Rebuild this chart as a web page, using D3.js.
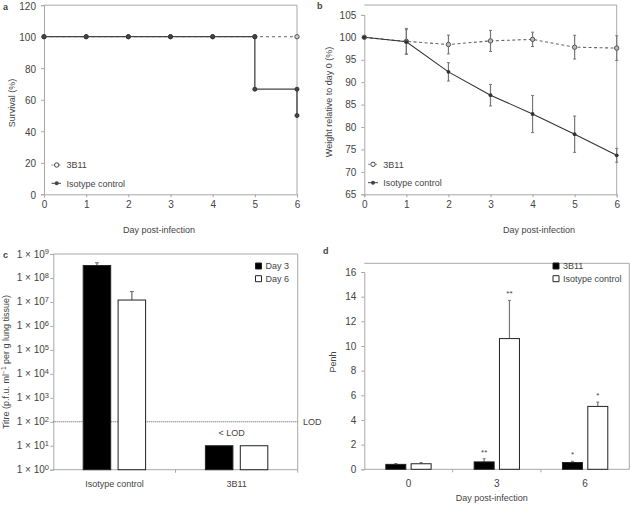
<!DOCTYPE html>
<html><head><meta charset="utf-8">
<script src="https://cdn.jsdelivr.net/npm/d3@7/dist/d3.min.js"></script>
<style>
body{margin:0;background:#fff;}
svg text{font-family:"Liberation Sans",Arial,sans-serif;fill:#444;}
svg .tick text, svg text.tk{font-family:"Liberation Sans Narrow","Liberation Sans",sans-serif;}
</style></head>
<body><svg id="c" width="630" height="505"></svg>
<script>
// ---------- DATA ----------
// Panel a: survival (Kaplan-Meier events)
const survDays = [0,1,2,3,4,5,6];
const surv3B11 = [100,100,100,100,100,100,100];
const survIsoDays = [0,1,2,3,4,5,5,6,6];
const survIso = [100,100,100,100,100,100,66.7,66.7,50];
const survTicksY = [0,20,40,60,80,100,120];

// Panel b: weight relative to day 0
const wDays = [0,1,2,3,4,5,6];
const w3B11 = [100,99.1,98.4,99.2,99.55,97.8,97.6];
const w3B11Err = [0,2.9,2.1,2.35,1.6,2.65,2.75];
const wIso = [100,99.0,92.3,87.1,82.9,78.4,73.7];
const wIsoErr = [0,2.7,2.05,2.4,4.15,4.05,1.55];
const wTicksY = [65,70,75,80,85,90,95,100,105];

// Panel c: lung titre
const titreGroups = ["Isotype control","3B11"];
const titreSeries = ["Day 3","Day 6"];
const titreDay3 = [3.3e8,10];
const titreDay3Err = [4.3e8,null];
const titreDay6 = [1.2e7,10];
const titreDay6Err = [2.7e7,null];
const titreExp = [0,1,2,3,4,5,6,7,8,9];
const LOD = 100;

// Panel d: Penh
const penhGroups = ["0","3","6"];
const penhSeries = ["3B11","Isotype control"];
const penh3B11 = [0.4,0.6,0.55];
const penh3B11Err = [0.47,0.86,0.65];
const penh3B11Sig = ["","**","*"];
const penhIso = [0.45,10.6,5.1];
const penhIsoErr = [0.55,13.7,5.45];
const penhIsoSig = ["","**","*"];
const penhTicksY = [0,2,4,6,8,10,12,14,16];

// ---------- DRAW ----------
const svg = d3.select("#c");
const AX = "#a8a8a8";

function styleAxis(g){
  g.select(".domain").attr("stroke",AX).attr("stroke-width",1);
  g.selectAll(".tick line").attr("stroke",AX);
  g.selectAll(".tick text").attr("fill","#444").style("font-size","10px");
}
function label(x,y,t,opt={}){
  const el = svg.append("text").attr("x",x).attr("y",y).text(t)
    .style("font-size",(opt.size||9)+"px").attr("text-anchor",opt.anchor||"middle");
  if(opt.rot) el.attr("transform",`rotate(-90,${x},${y})`);
  if(opt.bold) el.style("font-weight","bold").attr("fill","#111");
  if(opt.cls) el.attr("class",opt.cls);
  return el;
}
function frame(x0,x1,y0,y1){
  svg.append("path").attr("d",`M${x0},${y0}H${x1}V${y1}`).attr("fill","none").attr("stroke",AX);
}
function square(x,y,filled){
  svg.append("path").attr("d",`M${x},${y}h6v6h-6Z`)
    .attr("fill",filled?"#000":"#fff").attr("stroke","#222").attr("stroke-width",1);
}
const intFmt = d3.format("d");

// ===== Panel a =====
{
  const x = d3.scaleLinear().domain([0,6]).range([44,297]);
  const y = d3.scaleLinear().domain([0,120]).range([194.3,5.2]);
  frame(44,297,5.2,194.3);
  svg.append("g").attr("transform","translate(0,194.3)")
    .call(d3.axisBottom(x).tickValues(survDays).tickFormat(intFmt).tickSize(3).tickPadding(4)).call(styleAxis);
  const gy = svg.append("g").attr("transform","translate(44,0)")
    .call(d3.axisLeft(y).tickValues(survTicksY).tickSize(3).tickPadding(5)).call(styleAxis);
  gy.selectAll(".tick text").attr("dy","0.42em");
  const l3 = survDays.map((d,i)=>[d,surv3B11[i]]);
  const li = survIsoDays.map((d,i)=>[d,survIso[i]]);
  const line = d3.line().x(d=>x(d[0])).y(d=>y(d[1]));
  svg.append("path").attr("d",line(l3)).attr("fill","none").attr("stroke","#888").attr("stroke-width",1.3).attr("stroke-dasharray","3,3");
  svg.append("path").attr("d",line(li)).attr("fill","none").attr("stroke","#444").attr("stroke-width",1.3);
  svg.append("g").selectAll("circle").data(l3).join("circle").attr("cx",d=>x(d[0])).attr("cy",d=>y(d[1])).attr("r",2.2)
    .attr("fill","#ccc").attr("stroke","#555").attr("stroke-width",1);
  svg.append("g").selectAll("circle").data(li).join("circle").attr("cx",d=>x(d[0])).attr("cy",d=>y(d[1])).attr("r",2)
    .attr("fill","#444").attr("stroke","#333");
  svg.append("line").attr("x1",51.5).attr("x2",61).attr("y1",165).attr("y2",165).attr("stroke","#888").attr("stroke-dasharray","2,1.5");
  svg.append("circle").attr("cx",56.7).attr("cy",165).attr("r",2.2).attr("fill","#fff").attr("stroke","#444");
  label(66.5,168.2,"3B11",{anchor:"start"});
  svg.append("line").attr("x1",51.5).attr("x2",61).attr("y1",183.3).attr("y2",183.3).attr("stroke","#444");
  svg.append("circle").attr("cx",56.7).attr("cy",183.3).attr("r",2).attr("fill","#444");
  label(66.5,186.5,"Isotype control",{anchor:"start"});
  label(159,233,"Day post-infection");
  label(15,103,"Survival (%)",{rot:true});
  label(3,10,"a",{anchor:"start",bold:true,size:9});
}

// ===== Panel b =====
{
  const x = d3.scaleLinear().domain([0,6]).range([364.3,616.7]);
  const y = d3.scaleLinear().domain([65,105]).range([194.3,14.9]);
  frame(364.3,616.7,5,194.3);
  svg.append("g").attr("transform","translate(0,194.3)")
    .call(d3.axisBottom(x).tickValues(wDays).tickFormat(intFmt).tickSize(3).tickPadding(4)).call(styleAxis);
  svg.append("g").attr("transform","translate(364.3,0)")
    .call(d3.axisLeft(y).tickValues(wTicksY).tickSize(3).tickPadding(5)).call(styleAxis);
  const line = d3.line().x((d,i)=>x(wDays[i])).y(d=>y(d));
  const errs = (vals,errv)=>vals.map((v,i)=>({x:wDays[i],lo:v-errv[i],hi:v+errv[i]})).filter(d=>d.hi>d.lo);
  [[w3B11,w3B11Err],[wIso,wIsoErr]].forEach(([v,e])=>{
    const g = svg.append("g");
    errs(v,e).forEach(d=>{
      g.append("line").attr("x1",x(d.x)).attr("x2",x(d.x)).attr("y1",y(d.lo)).attr("y2",y(d.hi)).attr("stroke","#777").attr("stroke-width",1.2);
      [d.lo,d.hi].forEach(t=>g.append("line").attr("x1",x(d.x)-1.5).attr("x2",x(d.x)+1.5).attr("y1",y(t)).attr("y2",y(t)).attr("stroke","#777"));
    });
  });
  svg.append("path").attr("d",line(w3B11)).attr("fill","none").attr("stroke","#666").attr("stroke-width",1.1).attr("stroke-dasharray","3,2.5");
  svg.append("path").attr("d",line(wIso)).attr("fill","none").attr("stroke","#333").attr("stroke-width",1.1);
  svg.append("g").selectAll("circle").data(w3B11).join("circle").attr("cx",(d,i)=>x(wDays[i])).attr("cy",d=>y(d)).attr("r",2.2)
    .attr("fill","#bbb").attr("stroke","#555");
  svg.append("g").selectAll("circle").data(wIso).join("circle").attr("cx",(d,i)=>x(wDays[i])).attr("cy",d=>y(d)).attr("r",1.9)
    .attr("fill","#333");
  svg.append("line").attr("x1",368).attr("x2",378).attr("y1",164.3).attr("y2",164.3).attr("stroke","#888").attr("stroke-dasharray","2,1.5");
  svg.append("circle").attr("cx",373).attr("cy",164.3).attr("r",2.2).attr("fill","#fff").attr("stroke","#444");
  label(383.3,167.5,"3B11",{anchor:"start"});
  svg.append("line").attr("x1",368).attr("x2",378).attr("y1",182.7).attr("y2",182.7).attr("stroke","#444");
  svg.append("circle").attr("cx",373).attr("cy",182.7).attr("r",2).attr("fill","#444");
  label(383.3,185.9,"Isotype control",{anchor:"start"});
  label(539,233,"Day post-infection");
  label(332,102,"Weight relative to day 0 (%)",{rot:true});
  label(317,9,"b",{anchor:"start",bold:true});
}

// ===== Panel c =====
{
  const x0 = d3.scaleBand().domain(titreGroups).range([53.3,297.7]).padding(0);
  const x1 = d3.scaleBand().domain(titreSeries).range([-31.2,31.2]).paddingInner(0.212);
  const y = d3.scaleLog().domain([1,1e9]).range([469.7,254]);
  frame(53.3,297.7,254,469.7);
  const gx = svg.append("g");
  gx.append("line").attr("x1",53.3).attr("x2",297.7).attr("y1",469.7).attr("y2",469.7).attr("stroke",AX);
  titreGroups.forEach((g,i)=>{
    if(i>0) gx.append("line").attr("x1",x0(g)).attr("x2",x0(g)).attr("y1",469.7).attr("y2",472.7).attr("stroke",AX);
    label(x0(g)+x0.bandwidth()/2,487,g);
  });
  gx.append("line").attr("x1",297.7).attr("x2",297.7).attr("y1",469.7).attr("y2",472.7).attr("stroke",AX);
  const gy = svg.append("g").attr("transform","translate(53.3,0)")
    .call(d3.axisLeft(y).tickValues(titreExp.map(e=>Math.pow(10,e))).tickSize(3).tickPadding(4).tickFormat(""));
  styleAxis(gy);
  titreExp.forEach(e=>{
    const t = svg.append("text").attr("class","tk").attr("x",49).attr("y",y(Math.pow(10,e))+3.5).attr("text-anchor","end").style("font-size","10px");
    t.append("tspan").text("1 × 10");
    t.append("tspan").text(e).style("font-size","7.5px").attr("dy","-3.5");
  });
  svg.append("line").attr("x1",53.3).attr("x2",297.7).attr("y1",y(LOD)).attr("y2",y(LOD)).attr("stroke","#555").attr("stroke-dasharray","1,1");
  label(303,y(LOD)+3.2,"LOD",{anchor:"start"});
  const data = [];
  titreGroups.forEach((g,i)=>{
    data.push({g,s:"Day 3",v:titreDay3[i],e:titreDay3Err[i]});
    data.push({g,s:"Day 6",v:titreDay6[i],e:titreDay6Err[i]});
  });
  const cx = d=>x0(d.g)+x0.bandwidth()/2+x1(d.s);
  data.filter(d=>d.e).forEach(d=>{
    const xm = cx(d)+x1.bandwidth()/2;
    svg.append("line").attr("x1",xm).attr("x2",xm).attr("y1",y(d.v)).attr("y2",y(d.e)).attr("stroke","#666").attr("stroke-width",1.2);
    svg.append("line").attr("x1",xm-2).attr("x2",xm+2).attr("y1",y(d.e)).attr("y2",y(d.e)).attr("stroke","#666");
  });
  svg.append("g").selectAll("rect").data(data).join("rect")
    .attr("x",cx).attr("width",x1.bandwidth())
    .attr("y",d=>y(d.v)).attr("height",d=>y(1)-y(d.v))
    .attr("fill",d=>d.s==="Day 3"?"#000":"#fff").attr("stroke","#222").attr("stroke-width",1);
  label(x0("3B11")+x0.bandwidth()/2-5,436,"< LOD");
  titreSeries.forEach((s,i)=>{
    const yy = 266+i*12.7;
    square(255.5,yy-3,i===0);
    label(265.5,yy+3.3,s,{anchor:"start"});
  });
  const yl = svg.append("text").attr("x",9).attr("y",362).attr("text-anchor","middle").style("font-size","9px")
    .attr("transform","rotate(-90,9,362)");
  yl.append("tspan").text("Titre (p.f.u. ml");
  yl.append("tspan").text("−1").style("font-size","6.5px").attr("dy","-3.5");
  yl.append("tspan").text(" per g lung tissue)").attr("dy","3.5");
  label(3,258,"c",{anchor:"start",bold:true});
}

// ===== Panel d =====
{
  const x0 = d3.scaleBand().domain(penhGroups).range([364.3,629.3]).padding(0);
  const x1 = d3.scaleBand().domain(penhSeries).range([-22.65,22.65]).paddingInner(0.21);
  const y = d3.scaleLinear().domain([0,16]).range([469.3,272]);
  frame(364.3,629.3,263.3,469.3);
  const gx = svg.append("g");
  gx.append("line").attr("x1",364.3).attr("x2",629.3).attr("y1",469.3).attr("y2",469.3).attr("stroke",AX);
  penhGroups.forEach((g,i)=>{
    if(i>0) gx.append("line").attr("x1",x0(g)).attr("x2",x0(g)).attr("y1",469.3).attr("y2",472.3).attr("stroke",AX);
    label(x0(g)+x0.bandwidth()/2,487,g,{size:10,cls:"tk"});
  });
  svg.append("g").attr("transform","translate(364.3,0)")
    .call(d3.axisLeft(y).tickValues(penhTicksY).tickSize(3).tickPadding(5)).call(styleAxis);
  const data = [];
  penhGroups.forEach((g,i)=>{
    data.push({g,s:"3B11",v:penh3B11[i],e:penh3B11Err[i],sig:penh3B11Sig[i]});
    data.push({g,s:"Isotype control",v:penhIso[i],e:penhIsoErr[i],sig:penhIsoSig[i]});
  });
  const cx = d=>x0(d.g)+x0.bandwidth()/2+x1(d.s);
  data.forEach(d=>{
    const xm = cx(d)+x1.bandwidth()/2;
    svg.append("line").attr("x1",xm).attr("x2",xm).attr("y1",y(d.v)).attr("y2",y(d.e)).attr("stroke","#777").attr("stroke-width",1.2);
    svg.append("line").attr("x1",xm-1.5).attr("x2",xm+1.5).attr("y1",y(d.e)).attr("y2",y(d.e)).attr("stroke","#777");
    if(d.sig) label(xm,y(d.e)-4,d.sig,{size:8});
  });
  svg.append("g").selectAll("rect").data(data).join("rect")
    .attr("x",cx).attr("width",x1.bandwidth())
    .attr("y",d=>y(d.v)).attr("height",d=>y(0)-y(d.v))
    .attr("fill",d=>d.s==="3B11"?"#000":"#fff").attr("stroke","#222").attr("stroke-width",1);
  penhSeries.forEach((s,i)=>{
    const yy = 266+i*12.7;
    square(553,yy-3,i===0);
    label(563,yy+3.3,s,{anchor:"start"});
  });
  label(491.7,501,"Day post-infection");
  label(336,362,"Penh",{rot:true});
  label(323,254,"d",{anchor:"start",bold:true});
}
</script></body></html>
